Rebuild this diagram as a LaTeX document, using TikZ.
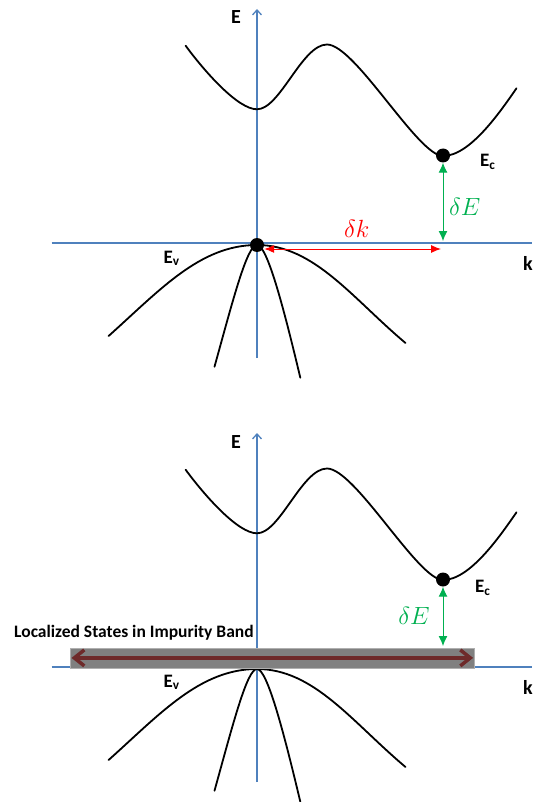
\documentclass[tikz,border=0pt]{standalone}
\usepackage{fontspec}
\usepackage{tikz}
\usetikzlibrary{arrows.meta,positioning,calc}
\newfontfamily\labelfont{Carlito}
\definecolor{AxisBlue}{RGB}{79,129,189}
\definecolor{GapRed}{RGB}{255,0,0}
\definecolor{GapGreen}{RGB}{0,176,80}
\definecolor{BandGray}{RGB}{128,128,128}
\definecolor{BandEdge}{RGB}{175,175,175}
\definecolor{ImpRed}{RGB}{110,42,42}
\tikzset{
  axisline/.style={draw=AxisBlue,line width=1.3pt},
  bandline/.style={draw=black,line width=1.8pt,line cap=round},
  statedot/.style={circle,fill=black,minimum size=14pt,inner sep=0pt},
  axislabel/.style={font=\labelfont\fontsize{20}{22}\selectfont\bfseries,inner sep=0pt},
  levellabel/.style={font=\labelfont\fontsize{19}{21}\selectfont\bfseries,inner sep=0pt},
  gaplabel/.style={font=\fontsize{25}{27}\selectfont,inner sep=0pt},
  kgaparrow/.style={{Latex[length=10pt,width=8pt]}-{Latex[length=10pt,width=8pt]},
    draw=GapRed,line width=1pt},
  egaparrow/.style={{Latex[length=10pt,width=9pt]}-{Latex[length=10pt,width=9pt]},
    draw=GapGreen,line width=1pt},
  impband/.style={fill=BandGray,draw=BandEdge,line width=0.8pt},
  imparrow/.style={{Straight Barb[length=10pt,width=16pt]}-{Straight Barb[length=10pt,width=16pt]},
    draw=ImpRed,line width=3.5pt},
  bandnote/.style={font=\labelfont\fontsize{17.5}{19}\selectfont\bfseries,inner sep=0pt},
}
\begin{document}
\begin{tikzpicture}[x=1pt,y=-1pt]
  \useasboundingbox (0,0) rectangle (532,802);
  % both panels share axes and bands
  \foreach \dy/\p in {0/1,424/2}{
    \begin{scope}[shift={(0,\dy)}]
      \draw[axisline] (51.7,243) -- (532,243);
      \draw[axisline,-{Straight Barb[length=5pt,width=9pt]}] (257,358) -- (257,9);
      \draw[bandline] (185.6,45.7) .. controls (205,72) and (238,109.3) .. (257,109.3)
        .. controls (280,109.3) and (302,44.5) .. (327,44.5)
        .. controls (355,44.5) and (418,156) .. (443,156)
        .. controls (470,156) and (500,112) .. (516.5,88.3);
      \draw[bandline] (257,245) .. controls (200,245) and (160,290) .. (108.6,336);
      \draw[bandline] (257,245) .. controls (314,245) and (352,298) .. (405.5,343);
      \draw[bandline] (257,245) .. controls (247,245) and (233,300) .. (214.5,366.7);
      \draw[bandline] (257,245) .. controls (267,245) and (283,305) .. (300.3,377.7);
      \node[statedot] (ec\p) at (443,155.5) {};
      \node[axislabel,anchor=base west] (elabel\p) at (231,24) {E};
      \node[axislabel,anchor=base west] (klabel\p) at (523,270) {k};
      \node[levellabel,anchor=base west] (evlabel\p) at (163.3,263.3) {E\textsubscript{v}};
    \end{scope}
  }

  % top panel: indirect gap
  \node[statedot] (ev1) at (257,245) {};
  \coordinate (kright) at (441,249);
  \coordinate (ebot1) at (443,241);
  \draw[kgaparrow] ([yshift=-4pt]ev1.east) -- (kright);
  \draw[egaparrow] (ec1.south) -- (ebot1);
  \node[levellabel,anchor=base west] (eclabel1) at (480,166.7) {E\textsubscript{c}};
  \node[gaplabel,anchor=base,text=GapRed] (dk) at (356.8,237) {$\delta k$};
  \node[gaplabel,anchor=base,text=GapGreen] (de1) at (464.7,216) {$\delta E$};

  % bottom panel: impurity band
  \node[impband,minimum width=404.8pt,minimum height=20pt,inner sep=0pt,
    anchor=north west] (band) at (69.5,647.5) {};
  \coordinate (ebot2) at (443,646);
  \draw[imparrow] ([xshift=2pt]band.west) -- ([xshift=-2pt]band.east);
  \draw[egaparrow] (ec2.south) -- (ebot2);
  \node[levellabel,anchor=base west] (eclabel2) at (475,592.7) {E\textsubscript{c}};
  \node[gaplabel,anchor=base,text=GapGreen] (de2) at (414,624.3) {$\delta E$};
  \node[bandnote,anchor=base west] (note) at (14,637.5) {Localized States in Impurity Band};
\end{tikzpicture}
\end{document}
